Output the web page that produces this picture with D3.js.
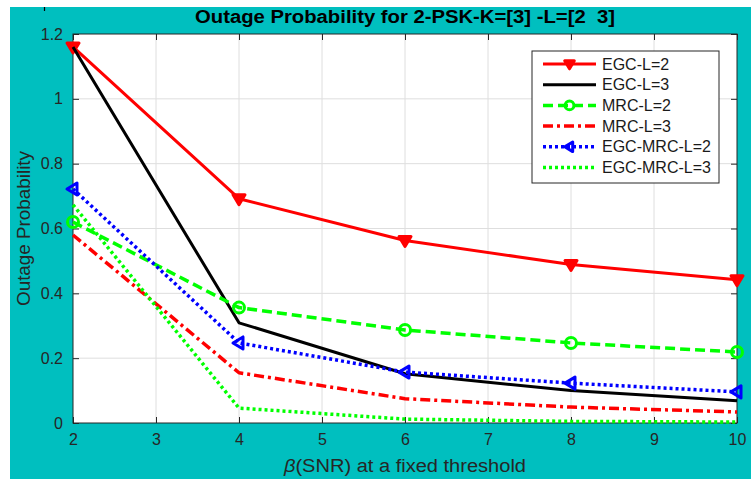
<!DOCTYPE html>
<html>
<head>
<meta charset="utf-8">
<script src="https://cdn.jsdelivr.net/npm/d3@7"></script>
<style>
  body { margin: 0; background: #fff; }
  svg text { font-family: "Liberation Sans", Arial, Helvetica, sans-serif; }
</style>
</head>
<body>
<div id="chart"></div>
<script>
// data
var snr = [2, 4, 6, 8, 10];
var egcL2 = [1.16, 0.692, 0.563, 0.489, 0.442];
var egcL3 = [1.16, 0.309, 0.152, 0.100, 0.069];
var mrcL2 = [0.62, 0.356, 0.287, 0.247, 0.219];
var mrcL3 = [0.58, 0.155, 0.075, 0.049, 0.034];
var egcMrcL2 = [0.722, 0.247, 0.157, 0.123, 0.096];
var egcMrcL3 = [0.673, 0.046, 0.012, 0.005, 0.003];
var xTicks = [2, 3, 4, 5, 6, 7, 8, 9, 10];
var yTicks = [0, 0.2, 0.4, 0.6, 0.8, 1, 1.2];
var seriesNames = ["EGC-L=2", "EGC-L=3", "MRC-L=2", "MRC-L=3", "EGC-MRC-L=2", "EGC-MRC-L=3"];

var series = [
    { name: seriesNames[0], values: egcL2, color: "#ff0000", dash: null, marker: "tri-down", width: 3 },
    { name: seriesNames[1], values: egcL3, color: "#000000", dash: null, marker: null, width: 3 },
    { name: seriesNames[2], values: mrcL2, color: "#00ff00", dash: "10,5", marker: "circle", width: 3.5 },
    { name: seriesNames[3], values: mrcL3, color: "#ff0000", dash: "10,4,3,4", marker: null, width: 3.5 },
    { name: seriesNames[4], values: egcMrcL2, color: "#0000ff", dash: "3,3", marker: "tri-left", width: 3.5 },
    { name: seriesNames[5], values: egcMrcL3, color: "#00ff00", dash: "3,3", marker: null, width: 3.5 }
];

var svgWidth = 751;
var svgHeight = 479;
var margin = { top: 34, right: 14, bottom: 56, left: 73 };
var chartWidth = svgWidth - margin.left - margin.right;   // 664
var chartHeight = svgHeight - margin.top - margin.bottom; // 389
var axisColor = "#262626";

var svg = d3.select("#chart").append("svg")
    .attr("width", svgWidth)
    .attr("height", svgHeight);

// teal figure background
svg.append("rect")
    .attr("x", 10).attr("y", 7)
    .attr("width", svgWidth - 10).attr("height", svgHeight - 7)
    .attr("fill", "#00bfbf");

// small stray tick at the top left
svg.append("line")
    .attr("x1", 44.5).attr("x2", 44.5).attr("y1", 7).attr("y2", 11)
    .attr("stroke", "#000").attr("stroke-width", 1.2);

var chartGroup = svg.append("g")
    .attr("transform", `translate(${margin.left}, ${margin.top})`);

chartGroup.append("rect")
    .attr("width", chartWidth).attr("height", chartHeight)
    .attr("fill", "#fff");

var xScale = d3.scaleLinear().domain([2, 10]).range([0, chartWidth]);
var yScale = d3.scaleLinear().domain([0, 1.2]).range([chartHeight, 0]);

// grid
chartGroup.append("g")
    .selectAll("line.vg")
    .data(xTicks.slice(1, -1))
    .enter().append("line")
    .attr("x1", d => xScale(d)).attr("x2", d => xScale(d))
    .attr("y1", 0).attr("y2", chartHeight)
    .attr("stroke", "#dedede").attr("stroke-width", 1);

chartGroup.append("g")
    .selectAll("line.hg")
    .data(yTicks.slice(1, -1))
    .enter().append("line")
    .attr("x1", 0).attr("x2", chartWidth)
    .attr("y1", d => yScale(d)).attr("y2", d => yScale(d))
    .attr("stroke", "#dedede").attr("stroke-width", 1);

// axes with inward ticks (box on)
function styleAxis(g) {
    g.select(".domain").remove();
    g.selectAll(".tick line").attr("stroke", axisColor);
    g.selectAll(".tick text").attr("fill", axisColor).style("font-size", "16px");
}

chartGroup.append("g")
    .attr("transform", `translate(0, ${chartHeight})`)
    .call(d3.axisBottom(xScale).tickValues(xTicks).tickSize(-6).tickPadding(11).tickFormat(d3.format("d")))
    .call(styleAxis);

chartGroup.append("g")
    .call(d3.axisLeft(yScale).tickValues(yTicks).tickSize(-6).tickPadding(10).tickFormat(d => d))
    .call(styleAxis);

chartGroup.append("g")
    .call(d3.axisTop(xScale).tickValues(xTicks).tickSize(-6).tickFormat(""))
    .call(styleAxis);

chartGroup.append("g")
    .attr("transform", `translate(${chartWidth}, 0)`)
    .call(d3.axisRight(yScale).tickValues(yTicks).tickSize(-6).tickFormat(""))
    .call(styleAxis);

chartGroup.append("rect")
    .attr("width", chartWidth).attr("height", chartHeight)
    .attr("fill", "none").attr("stroke", axisColor).attr("stroke-width", 1);

// markers
function drawMarker(g, type, color, x, y, k) {
    k = k || 1;
    if (type === "circle") {
        g.append("circle").attr("cx", x).attr("cy", y).attr("r", 5.5 * k)
            .attr("fill", "none").attr("stroke", color).attr("stroke-width", 3);
    } else if (type === "tri-down") {
        g.append("path")
            .attr("d", `M${x - 6 * k},${y - 4 * k} L${x + 6 * k},${y - 4 * k} L${x},${y + 6 * k} Z`)
            .attr("fill", color).attr("stroke", color).attr("stroke-width", 3)
            .attr("stroke-linejoin", "round");
    } else if (type === "tri-left") {
        g.append("path")
            .attr("d", `M${x - 6 * k},${y} L${x + 4 * k},${y - 6 * k} L${x + 4 * k},${y + 6 * k} Z`)
            .attr("fill", "none").attr("stroke", color).attr("stroke-width", 3)
            .attr("stroke-linejoin", "round");
    }
}

var line = d3.line()
    .x((d, i) => xScale(snr[i]))
    .y(d => yScale(d));

var plotGroup = chartGroup.append("g");
series.forEach(function (s) {
    plotGroup.append("path")
        .datum(s.values)
        .attr("d", line)
        .attr("fill", "none")
        .attr("stroke", s.color)
        .attr("stroke-width", s.width)
        .attr("stroke-dasharray", s.dash)
        .attr("stroke-linejoin", "round");
    if (s.marker) {
        s.values.forEach(function (v, i) {
            drawMarker(plotGroup, s.marker, s.color, xScale(snr[i]), yScale(v));
        });
    }
});

// legend
var legend = svg.append("g").attr("transform", "translate(532, 51)");
legend.append("rect")
    .attr("width", 187).attr("height", 132)
    .attr("fill", "#fff").attr("stroke", axisColor).attr("stroke-width", 1);

series.forEach(function (s, i) {
    var y = 13 + i * 20.7;
    legend.append("line")
        .attr("x1", 11).attr("x2", 64).attr("y1", y).attr("y2", y)
        .attr("stroke", s.color).attr("stroke-width", s.width)
        .attr("stroke-dasharray", s.dash);
    if (s.marker) drawMarker(legend, s.marker, s.color, 37.5, y, 0.8);
    legend.append("text")
        .attr("x", 70).attr("y", y + 5.5)
        .attr("fill", "#1a1a1a")
        .style("font-size", "16px")
        .text(s.name);
});

// title
svg.append("text")
    .attr("x", margin.left + chartWidth / 2)
    .attr("y", 23)
    .attr("text-anchor", "middle")
    .attr("fill", "#000")
    .attr("textLength", 420)
    .attr("lengthAdjust", "spacingAndGlyphs")
    .style("font-size", "18px")
    .style("font-weight", "bold")
    .style("white-space", "pre")
    .text("Outage Probability for 2-PSK-K=[3] -L=[2  3]");

// axis labels
svg.append("text")
    .attr("transform", `translate(30, ${margin.top + chartHeight / 2}) rotate(-90)`)
    .attr("text-anchor", "middle")
    .attr("fill", axisColor)
    .attr("textLength", 155)
    .attr("lengthAdjust", "spacingAndGlyphs")
    .style("font-size", "18px")
    .text("Outage Probability");

var xLabel = svg.append("text")
    .attr("x", margin.left + chartWidth / 2)
    .attr("y", 472)
    .attr("text-anchor", "middle")
    .attr("fill", axisColor)
    .attr("textLength", 242)
    .attr("lengthAdjust", "spacingAndGlyphs")
    .style("font-size", "18px");
xLabel.append("tspan").style("font-style", "italic").text("β");
xLabel.append("tspan").text("(SNR) at a fixed threshold");
</script>
</body>
</html>
